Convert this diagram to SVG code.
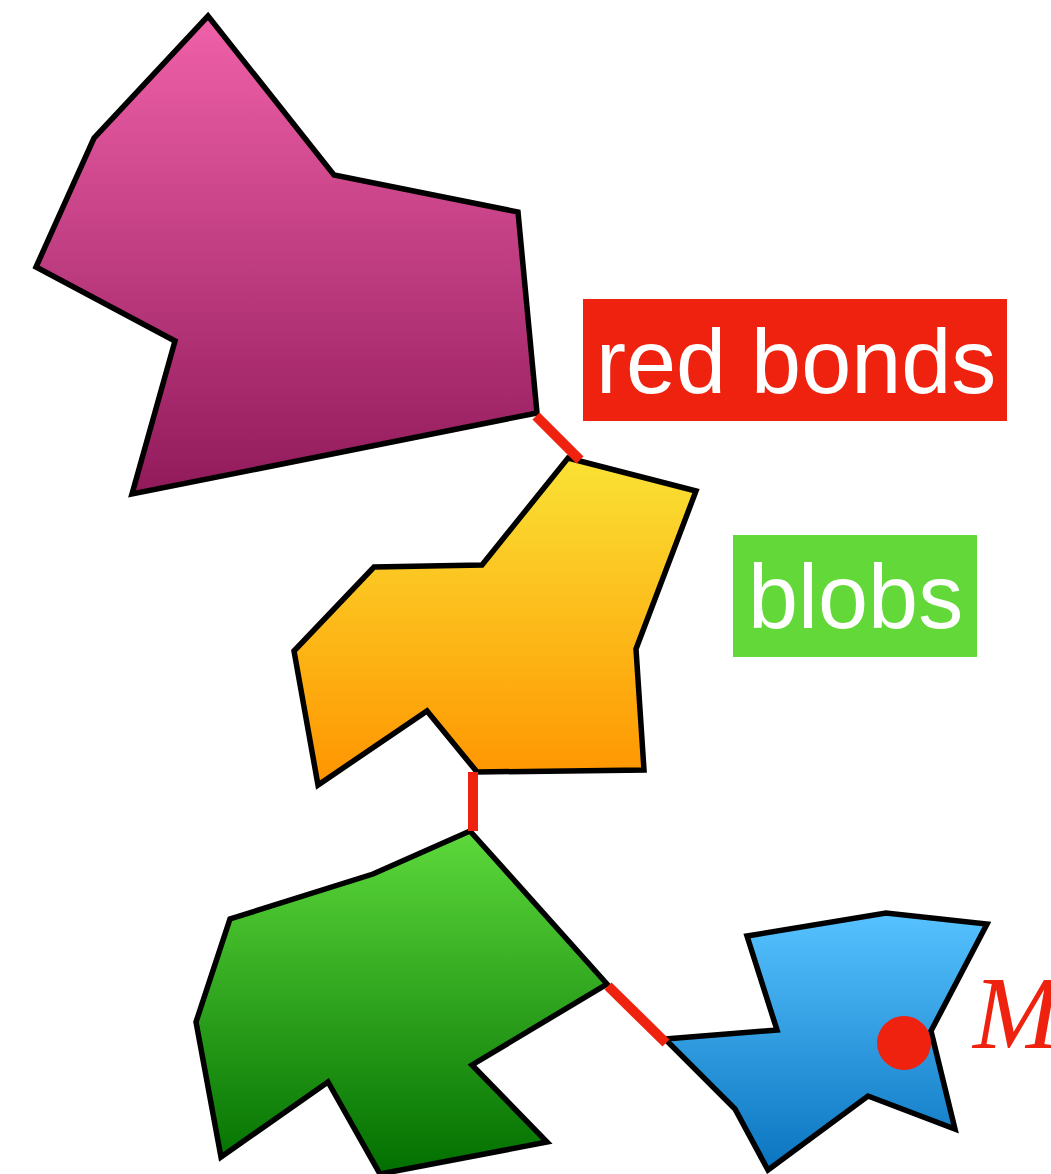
<svg xmlns="http://www.w3.org/2000/svg" width="1051" height="1174" viewBox="0 0 1051 1174">
  <defs>
    <linearGradient id="gMagenta" x1="0" y1="0" x2="0" y2="1">
      <stop offset="0" stop-color="#f061a9"/>
      <stop offset="1" stop-color="#911a5b"/>
    </linearGradient>
    <linearGradient id="gYellow" x1="0" y1="0" x2="0" y2="1">
      <stop offset="0" stop-color="#fae234"/>
      <stop offset="1" stop-color="#ff9400"/>
    </linearGradient>
    <linearGradient id="gGreen" x1="0" y1="0" x2="0" y2="1">
      <stop offset="0" stop-color="#5dd93b"/>
      <stop offset="1" stop-color="#016f00"/>
    </linearGradient>
    <linearGradient id="gBlue" x1="0" y1="0" x2="0" y2="1">
      <stop offset="0" stop-color="#57c2ff"/>
      <stop offset="1" stop-color="#0a74c0"/>
    </linearGradient>
  </defs>
  <style>
    .blob { stroke: #000; stroke-width: 5.5; stroke-linejoin: miter; }
    .bond { stroke: #ee220f; stroke-width: 10; stroke-linecap: butt; fill: none; }
    .tag { font-family: "Liberation Sans", Arial, sans-serif; font-size: 90px; fill: #fff; }
  </style>

  <g id="blob-magenta">
    <polygon class="blob" fill="url(#gMagenta)" points="208,16 334,175 518,212 537,413 132,494 175,341 36,267 94,138"/>
  </g>
  <g id="blob-yellow">
    <polygon class="blob" fill="url(#gYellow)" points="568,458 696,491 636,649 644,770 477,772 427,711 318,785 294,651 374,567 482,565"/>
  </g>
  <g id="blob-green">
    <polygon class="blob" fill="url(#gGreen)" points="470,831 607,984 472,1065 547,1142 380,1174 328,1082 221,1157 196,1022 230,919 373,874"/>
  </g>
  <g id="blob-blue">
    <polygon class="blob" fill="url(#gBlue)" points="665,1039 777,1030 747,936 886,913 987,924 931,1031 955,1129 868,1096 768,1170 735,1109"/>
    <circle cx="904" cy="1043" r="27" fill="#ee220f"/>
  </g>

  <g id="bonds">
    <line class="bond" x1="536" y1="416" x2="580" y2="460"/>
    <line class="bond" x1="473" y1="772" x2="473" y2="831"/>
    <line class="bond" x1="608" y1="986" x2="666" y2="1043"/>
  </g>

  <g id="label-red-bonds">
    <rect x="583" y="299" width="424" height="122" fill="#ee220f"/>
    <text class="tag" x="596" y="393">red bonds</text>
  </g>
  <g id="label-blobs">
    <rect x="733" y="535" width="244" height="122" fill="#62d939"/>
    <text class="tag" x="748" y="628">blobs</text>
  </g>
  <g id="label-M">
    <text x="973" y="1048" font-family="'Liberation Serif', 'Times New Roman', serif" font-style="italic" font-size="104" fill="#ee220f">M</text>
  </g>
</svg>
